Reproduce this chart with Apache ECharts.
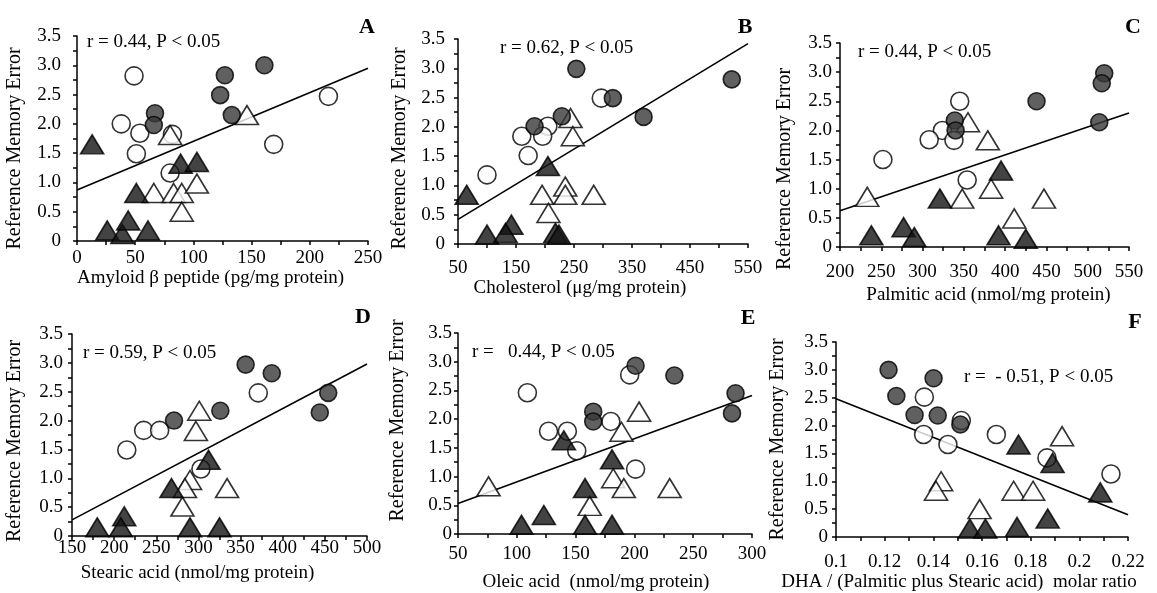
<!DOCTYPE html>
<html lang="en">
<head>
    <meta charset="UTF-8">
    <title>Reference Memory Error</title>
    <style>
        html, body { margin: 0; padding: 0; background: #fff; }
        #chart { width: 1157px; height: 593px; }
    </style>
</head>
<body>
<div id="chart"></div>
<script type="text/javascript" src="https://cdn.jsdelivr.net/npm/echarts@6.0.0/dist/echarts.min.js"></script>
<script>
    // ---- data ----
    // A: amyloid beta
    var aDarkCircles = [[127, 2.83], [123, 2.49], [161, 3.0], [133, 2.15], [67, 2.18], [66, 1.98]];
    var aOpenCircles = [[49, 2.82], [38, 2.0], [54, 1.84], [51, 1.49], [82, 1.82], [80, 1.16], [216, 2.47], [169, 1.65]];
    var aDarkTriangles = [[13, 1.65], [89, 1.32], [103, 1.35], [51, 0.82], [26, 0.18], [39, 0.12], [44, 0.35], [61, 0.18]];
    var aOpenTriangles = [[146, 2.15], [80, 1.81], [66, 0.82], [83, 0.82], [90, 0.82], [103, 0.98], [90, 0.5]];
    var aFitLine = [[0, 0.87], [250, 2.95]];

    // B: cholesterol
    var bDarkCircles = [[254, 2.99], [317, 2.49], [229, 2.18], [182, 2.01], [522, 2.81], [370, 2.17]];
    var bOpenCircles = [[297, 2.49], [205, 2.01], [160, 1.84], [196, 1.84], [171, 1.51], [100, 1.18]];
    var bDarkTriangles = [[205, 1.33], [65, 0.84], [100, 0.16], [142, 0.33], [132, 0.19], [218, 0.19], [224, 0.16]];
    var bOpenTriangles = [[244, 2.15], [248, 1.84], [195, 0.84], [235, 0.98], [235, 0.84], [284, 0.84], [206, 0.53]];
    var bFitLine = [[50, 0.42], [550, 3.42]];

    // C: palmitic acid
    var cDarkCircles = [[520, 2.98], [517, 2.81], [438, 2.5], [514, 2.14], [339, 2.17], [340, 2.0]];
    var cOpenCircles = [[345, 2.5], [324, 2.0], [308, 1.84], [338, 1.83], [252, 1.5], [354, 1.15]];
    var cDarkTriangles = [[395, 1.31], [321, 0.83], [238, 0.2], [277, 0.34], [290, 0.17], [392, 0.2], [425, 0.14]];
    var cOpenTriangles = [[355, 2.14], [379, 1.83], [383, 1.0], [348, 0.83], [233, 0.86], [411, 0.49], [447, 0.83]];
    var cFitLine = [[200, 0.62], [550, 2.3]];

    // D: stearic acid
    var dDarkCircles = [[356, 2.97], [387, 2.82], [454, 2.48], [444, 2.14], [326, 2.17], [271, 2.0]];
    var dOpenCircles = [[371, 2.48], [235, 1.83], [254, 1.83], [215, 1.49], [303, 1.16]];
    var dDarkTriangles = [[312, 1.32], [268, 0.83], [180, 0.15], [212, 0.34], [208, 0.15], [290, 0.15], [325, 0.15]];
    var dOpenTriangles = [[301, 2.17], [297, 1.82], [290, 0.97], [284, 0.83], [334, 0.83], [281, 0.51]];
    var dFitLine = [[150, 0.28], [500, 2.98]];

    // E: oleic acid
    var eDarkCircles = [[201, 2.93], [234, 2.76], [286, 2.45], [283, 2.1], [165, 2.13], [165, 1.96]];
    var eOpenCircles = [[196, 2.77], [109, 2.46], [127, 1.79], [143, 1.79], [151, 1.45], [180, 1.96], [201, 1.13]];
    var eDarkTriangles = [[140, 1.63], [181, 1.3], [158, 0.8], [104, 0.16], [123, 0.33], [158, 0.16], [181, 0.16]];
    var eOpenTriangles = [[204, 2.13], [189, 1.78], [182, 0.97], [191, 0.8], [230, 0.8], [162, 0.49], [76, 0.83]];
    var eFitLine = [[50, 0.53], [300, 2.41]];

    // F: DHA / (palmitic + stearic)
    var fDarkCircles = [[0.1216, 3.0], [0.1401, 2.85], [0.1248, 2.53], [0.1323, 2.19], [0.1418, 2.18], [0.1511, 2.02]];
    var fOpenCircles = [[0.1363, 2.51], [0.136, 1.84], [0.146, 1.66], [0.1515, 2.09], [0.1659, 1.84], [0.1867, 1.42], [0.213, 1.13]];
    var fDarkTriangles = [[0.175, 1.66], [0.189, 1.33], [0.2086, 0.8], [0.155, 0.15], [0.1614, 0.15], [0.1744, 0.18], [0.187, 0.33]];
    var fOpenTriangles = [[0.1929, 1.81], [0.1432, 1.0], [0.1411, 0.83], [0.173, 0.83], [0.181, 0.83], [0.159, 0.5]];
    var fFitLine = [[0.1, 2.48], [0.22, 0.4]];

    var yTicks = [0, 0.5, 1.0, 1.5, 2.0, 2.5, 3.0, 3.5];

    var FONT = '"Liberation Serif", "DejaVu Serif", serif';

    // xPad / yPad nudge the axis names off-centre like in the scan
    var panels = [
        {letter: 'A', stat: 'r = 0.44, P < 0.05', xName: 'Amyloid \u03b2 peptide (pg/mg protein)',
            grid: {left: 77, top: 36, width: 291, height: 205}, xMin: 0, xMax: 250, xStep: 25, xLabelStep: 50,
            labelMargin: 8, nameGap: 23, yNameGap: 52, yLabelMargin: 16, xPad: [0, 24, 0, 0], yPad: [0, 20, 0, 0],
            letterPos: [367, 27], statPos: [87, 42],
            dc: aDarkCircles, oc: aOpenCircles, dt: aDarkTriangles, ot: aOpenTriangles, fit: aFitLine},
        {letter: 'B', stat: 'r = 0.62, P < 0.05', xName: 'Cholesterol (\u03bcg/mg protein)',
            grid: {left: 458, top: 39, width: 290, height: 205}, xMin: 50, xMax: 550, xStep: 50, xLabelStep: 100,
            labelMargin: 15, nameGap: 34, yNameGap: 48, yLabelMargin: 13, xPad: [0, 46, 0, 0], yPad: [0, 14, 0, 0],
            letterPos: [745, 27], statPos: [500, 48],
            dc: bDarkCircles, oc: bOpenCircles, dt: bDarkTriangles, ot: bOpenTriangles, fit: bFitLine},
        {letter: 'C', stat: 'r = 0.44, P < 0.05', xName: 'Palmitic acid (nmol/mg protein)',
            grid: {left: 840, top: 43, width: 289, height: 204}, xMin: 200, xMax: 550, xStep: 25, xLabelStep: 50,
            labelMargin: 16, nameGap: 39, yNameGap: 45, yLabelMargin: 8, xPad: [0, 0, 0, 8], yPad: [0, 48, 0, 0],
            letterPos: [1133, 27], statPos: [858, 52],
            dc: cDarkCircles, oc: cOpenCircles, dt: cDarkTriangles, ot: cOpenTriangles, fit: cFitLine},
        {letter: 'D', stat: 'r = 0.59, P < 0.05', xName: 'Stearic acid (nmol/mg protein)',
            grid: {left: 72, top: 334, width: 295, height: 202}, xMin: 150, xMax: 500, xStep: 25, xLabelStep: 50,
            labelMargin: 3, nameGap: 28, yNameGap: 47, yLabelMargin: 9, xPad: [0, 44, 0, 0], yPad: [0, 12, 0, 0],
            letterPos: [363, 317], statPos: [83, 353],
            dc: dDarkCircles, oc: dOpenCircles, dt: dDarkTriangles, ot: dOpenTriangles, fit: dFitLine},
        {letter: 'E', stat: 'r =   0.44, P < 0.05', xName: 'Oleic acid  (nmol/mg protein)',
            grid: {left: 458, top: 333, width: 294, height: 204}, xMin: 50, xMax: 300, xStep: 25, xLabelStep: 50,
            labelMargin: 11, nameGap: 39, yNameGap: 50, yLabelMargin: 6, xPad: [0, 18, 0, 0], yPad: [0, 0, 0, 26],
            letterPos: [748, 318], statPos: [472, 352],
            dc: eDarkCircles, oc: eOpenCircles, dt: eDarkTriangles, ot: eOpenTriangles, fit: eFitLine},
        {letter: 'F', stat: 'r =  - 0.51, P < 0.05', xName: 'DHA / (Palmitic plus Stearic acid)  molar ratio',
            grid: {left: 836, top: 342, width: 292, height: 196}, xMin: 0.1, xMax: 0.22, xStep: 0.01, xLabelStep: 0.02,
            labelMargin: 16, nameGap: 36, yNameGap: 48, yLabelMargin: 8, xPad: [0, 46, 0, 0], yPad: [0, 0, 0, 0],
            letterPos: [1135, 322], statPos: [964, 377],
            dc: fDarkCircles, oc: fOpenCircles, dt: fDarkTriangles, ot: fOpenTriangles, fit: fFitLine}
    ];

    function isLabel(v, step) {
        var r = v / step;
        return Math.abs(r - Math.round(r)) < 1e-6;
    }

    var grids = [], xAxes = [], yAxes = [], series = [], graphics = [];

    panels.forEach(function (p, i) {
        grids.push(p.grid);
        xAxes.push({
            gridIndex: i, type: 'value', min: p.xMin, max: p.xMax, interval: p.xStep,
            name: p.xName, nameLocation: 'middle', nameGap: p.nameGap,
            nameTextStyle: {fontFamily: FONT, fontSize: 19, color: '#000', padding: p.xPad},
            axisLine: {show: true, onZero: false, lineStyle: {color: '#000', width: 1.5}},
            axisTick: {show: true, length: 4, lineStyle: {color: '#000', width: 1.5}},
            splitLine: {show: false},
            axisLabel: {
                margin: p.labelMargin, fontFamily: FONT, fontSize: 19, color: '#000',
                showMinLabel: true, showMaxLabel: true,
                formatter: function (v) {
                    if (!isLabel(v - p.xMin, p.xLabelStep)) return '';
                    return String(Math.round(v * 1000) / 1000);
                }
            }
        });
        yAxes.push({
            gridIndex: i, type: 'value', min: 0, max: 3.5, interval: 0.25,
            name: 'Reference Memory Error', nameLocation: 'middle', nameGap: p.yNameGap,
            nameTextStyle: {fontFamily: FONT, fontSize: 20, color: '#000', padding: p.yPad},
            axisLine: {show: true, onZero: false, lineStyle: {color: '#000', width: 1.5}},
            axisTick: {show: true, length: 4, lineStyle: {color: '#000', width: 1.5}},
            splitLine: {show: false},
            axisLabel: {
                margin: p.yLabelMargin, fontFamily: FONT, fontSize: 19, color: '#000',
                formatter: function (v) {
                    var hit = yTicks.filter(function (t) { return Math.abs(t - v) < 1e-6; });
                    if (!hit.length) return '';
                    return v === 0 ? '0' : v.toFixed(1);
                }
            }
        });

        series.push({
            type: 'line', xAxisIndex: i, yAxisIndex: i, data: p.fit, symbol: 'none', z: 1,
            lineStyle: {color: '#000', width: 1.6}, silent: true
        });
        series.push({
            type: 'scatter', xAxisIndex: i, yAxisIndex: i, data: p.oc, symbol: 'circle', symbolSize: 18, z: 2,
            itemStyle: {color: '#fff', borderColor: '#000', borderWidth: 1.6}
        });
        series.push({
            type: 'scatter', xAxisIndex: i, yAxisIndex: i, data: p.ot, symbol: 'triangle', symbolSize: [23, 19], z: 2,
            itemStyle: {color: '#fff', borderColor: '#000', borderWidth: 1.6}
        });
        series.push({
            type: 'scatter', xAxisIndex: i, yAxisIndex: i, data: p.dt, symbol: 'triangle', symbolSize: [23, 19], z: 3,
            itemStyle: {color: '#141414', borderColor: '#000', borderWidth: 1.6}
        });
        series.push({
            type: 'scatter', xAxisIndex: i, yAxisIndex: i, data: p.dc, symbol: 'circle', symbolSize: 17, z: 3,
            itemStyle: {color: '#383838', borderColor: '#000', borderWidth: 1.6}
        });

        graphics.push({
            type: 'text', x: p.letterPos[0], y: p.letterPos[1],
            style: {text: p.letter, fontFamily: FONT, fontSize: 22, fontWeight: 'bold', fill: '#000',
                textAlign: 'center', textVerticalAlign: 'middle'}
        });
        graphics.push({
            type: 'text', x: p.statPos[0], y: p.statPos[1],
            style: {text: p.stat, fontFamily: FONT, fontSize: 19, fill: '#000',
                textAlign: 'left', textVerticalAlign: 'middle'}
        });
    });

    var myChart = echarts.init(document.getElementById('chart'));
    var option = {
        backgroundColor: '#fff',
        animation: false,
        grid: grids,
        xAxis: xAxes,
        yAxis: yAxes,
        series: series,
        graphic: graphics
    };
    myChart.setOption(option, true);
</script>
</body>
</html>
